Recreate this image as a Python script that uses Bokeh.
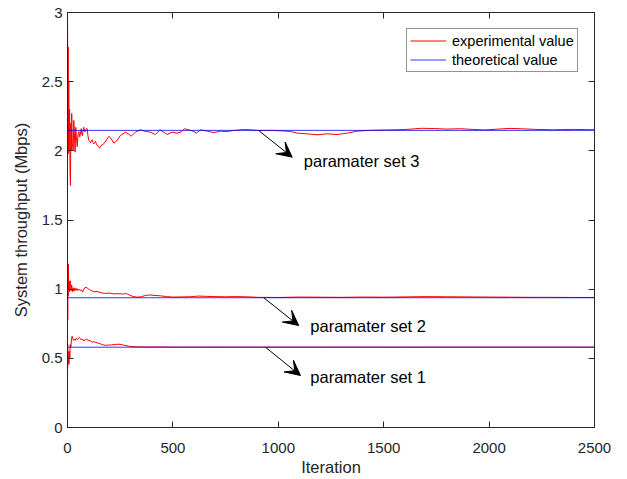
from bokeh.plotting import figure
from bokeh.models import (LinearAxis, Range1d, FixedTicker, Legend, LegendItem,
                          Arrow, VeeHead, Label)
from bokeh.embed import file_html
from bokeh.resources import INLINE

# ---------------- data ----------------
x_ticks = [0, 500, 1000, 1500, 2000, 2500]
x_tick_labels = ["0", "500", "1000", "1500", "2000", "2500"]
y_ticks = [0, 0.5, 1, 1.5, 2, 2.5, 3]
y_tick_labels = ["0", "0.5", "1", "1.5", "2", "2.5", "3"]

theory_values = [0.5805, 0.938, 2.148]   # set 1, set 2, set 3
theory_iter = [0, 2500]

set3_iter = [0, 2, 3, 4, 6, 8, 10, 12, 14, 16,
             18, 20, 23, 27, 30, 33, 36, 39, 42, 46,
             50, 54, 58, 62, 65, 68, 71, 74, 77, 81,
             85, 89, 93, 97, 101, 105, 109, 113, 117, 121,
             125, 129, 133, 137, 141, 145, 149, 153, 157, 172,
             196, 204, 220, 235, 251, 275, 291, 302, 322, 346,
             370, 393, 417, 438, 457, 473, 497, 520, 539, 555,
             575, 599, 612, 631, 663, 694, 726, 757, 789, 836,
             868, 907, 960, 1010, 1058, 1089, 1137, 1184, 1232, 1279,
             1327, 1374, 1421, 1480, 1563, 1620, 1680, 1740, 1800, 1860,
             1920, 1980, 2040, 2100, 2160, 2220, 2300, 2400, 2500]
set3_exp = [3.00, 2.35, 2.75, 1.98, 2.50, 2.00, 2.30, 1.85, 1.75, 2.20,
            2.00, 2.27, 2.05, 2.00, 2.22, 2.10, 1.99, 2.17, 2.10, 2.03,
            2.12, 2.14, 2.10, 2.13, 2.16, 2.12, 2.11, 2.15, 2.17, 2.14,
            2.14, 2.16, 2.16, 2.11, 2.075, 2.07, 2.06, 2.07, 2.08, 2.06,
            2.05, 2.06, 2.07, 2.05, 2.04, 2.035, 2.025, 2.02, 2.034, 2.051,
            2.104, 2.096, 2.055, 2.075, 2.111, 2.135, 2.12, 2.106, 2.135, 2.152,
            2.14, 2.135, 2.118, 2.152, 2.135, 2.118, 2.135, 2.128, 2.137, 2.159,
            2.152, 2.14, 2.128, 2.152, 2.142, 2.132, 2.142, 2.14, 2.147, 2.154,
            2.152, 2.147, 2.148, 2.145, 2.14, 2.128, 2.123, 2.116, 2.123, 2.118,
            2.128, 2.142, 2.147, 2.15, 2.152, 2.156, 2.163, 2.161, 2.157, 2.16,
            2.155, 2.151, 2.157, 2.162, 2.159, 2.155, 2.152, 2.155, 2.152]

set2_iter = [0, 1, 2, 3, 4, 6, 8, 10, 12, 14,
             17, 20, 23, 27, 31, 35, 40, 45, 50, 55,
             60, 65, 72, 80, 88, 96, 104, 112, 120, 130,
             140, 150, 165, 180, 200, 220, 240, 260, 280, 295,
             310, 330, 350, 370, 390, 410, 440, 470, 500, 540,
             580, 620, 660, 700, 750, 800, 850, 900, 1000, 1100,
             1200, 1300, 1400, 1500, 1600, 1700, 1800, 1900, 2000, 2100,
             2200, 2300, 2400, 2500]
set2_exp = [1.23, 0.78, 1.10, 0.95, 1.18, 1.00, 1.06, 0.98, 1.04, 1.06,
            0.99, 1.03, 0.98, 1.01, 0.985, 1.01, 0.99, 1.005, 0.99, 1.00,
            0.99, 0.995, 0.98, 1.008, 1.014, 1.005, 0.998, 0.99, 0.985, 0.98,
            0.985, 0.978, 0.972, 0.97, 0.971, 0.966, 0.967, 0.965, 0.968, 0.957,
            0.947, 0.942, 0.945, 0.955, 0.958, 0.955, 0.952, 0.946, 0.943, 0.944,
            0.945, 0.95, 0.948, 0.946, 0.945, 0.946, 0.945, 0.941, 0.94, 0.943,
            0.942, 0.941, 0.943, 0.942, 0.944, 0.946, 0.945, 0.944, 0.943, 0.942,
            0.941, 0.941, 0.940, 0.940]

set1_iter = [0, 1, 2, 3, 5, 7, 9, 11, 13, 16,
             19, 22, 25, 29, 33, 37, 42, 47, 52, 57,
             62, 67, 72, 78, 84, 90, 96, 102, 110, 118,
             126, 135, 145, 155, 165, 180, 195, 210, 225, 240,
             255, 270, 290, 310, 340, 380, 450, 550, 700, 900,
             1200, 1600, 2000, 2500]
set1_exp = [0.34, 0.60, 0.45, 0.55, 0.50, 0.46, 0.55, 0.50, 0.60, 0.58,
            0.64, 0.66, 0.645, 0.63, 0.64, 0.63, 0.645, 0.635, 0.645, 0.652,
            0.64, 0.632, 0.64, 0.625, 0.635, 0.638, 0.633, 0.628, 0.626, 0.616,
            0.62, 0.615, 0.61, 0.605, 0.599, 0.594, 0.596, 0.597, 0.600, 0.602,
            0.600, 0.594, 0.588, 0.584, 0.583, 0.582, 0.582, 0.581, 0.5815, 0.581,
            0.5812, 0.581, 0.5812, 0.581]

# annotations: arrows (tail -> head) and their texts
arrow_tail_x = [939, 931, 906]
arrow_tail_y = [0.5805, 0.938, 2.148]
arrow_head_x = [1105, 1097, 1066]
arrow_head_y = [0.376, 0.737, 1.954]
note_x = [1152, 1152, 1121]
note_y = [0.365, 0.735, 1.93]
note_text = ["paramater set 1", "paramater set 2", "paramater set 3"]

# ---------------- styling ----------------
FONT = "Liberation Sans"
AX = "#262626"

p = figure(width=627, height=479, x_range=Range1d(0, 2500), y_range=Range1d(0, 3),
           output_backend="svg", toolbar_location=None,
           min_border_left=67, min_border_top=12, min_border_right=33,
           min_border_bottom=52)
p.outline_line_color = None
p.xgrid.visible = False
p.ygrid.visible = False
p.background_fill_color = "white"
p.border_fill_color = "white"

def style_axis(ax, ticks, labels, show_labels=True):
    ax.ticker = FixedTicker(ticks=ticks)
    ax.major_label_overrides = {t: l for t, l in zip(ticks, labels)}
    ax.axis_line_color = AX
    ax.axis_line_width = 1
    ax.major_tick_line_color = AX
    ax.major_tick_in = 6
    ax.major_tick_out = 0
    ax.minor_tick_line_color = None
    ax.major_label_text_font = FONT
    if show_labels:
        ax.major_label_text_font_size = "15px"
        ax.major_label_text_color = AX
    else:
        ax.major_label_text_font_size = "0px"
        ax.major_label_text_color = None
        ax.major_label_standoff = 0

style_axis(p.xaxis[0], x_ticks, x_tick_labels)
p.xaxis[0].major_label_standoff = 15
p.xaxis[0].axis_label = "Iteration"
p.xaxis[0].axis_label_text_font = FONT
p.xaxis[0].axis_label_text_font_size = "16.5px"
p.xaxis[0].axis_label_text_font_style = "normal"
p.xaxis[0].axis_label_text_color = AX
p.xaxis[0].axis_label_standoff = 2

style_axis(p.yaxis[0], y_ticks, y_tick_labels)
p.yaxis[0].major_label_standoff = 5
p.yaxis[0].axis_label = "System throughput (Mbps)"
p.yaxis[0].axis_label_text_font = FONT
p.yaxis[0].axis_label_text_font_size = "16.5px"
p.yaxis[0].axis_label_text_font_style = "normal"
p.yaxis[0].axis_label_text_color = AX
p.yaxis[0].axis_label_standoff = 9

top_ax = LinearAxis()
style_axis(top_ax, x_ticks, x_tick_labels, show_labels=False)
p.add_layout(top_ax, "above")
right_ax = LinearAxis()
style_axis(right_ax, y_ticks, y_tick_labels, show_labels=False)
p.add_layout(right_ax, "right")

RED = "#ff0000"
BLUE = "#0000ff"

r_e1 = p.line(set1_iter, set1_exp, line_color=RED, line_width=1)
r_e2 = p.line(set2_iter, set2_exp, line_color=RED, line_width=1)
r_e3 = p.line(set3_iter, set3_exp, line_color=RED, line_width=1)
th = []
for v in theory_values:
    th.append(p.line(theory_iter, [v, v], line_color=BLUE, line_width=1, line_alpha=0.8))

legend = Legend(items=[LegendItem(label="experimental value", renderers=[r_e3]),
                       LegendItem(label="theoretical value", renderers=[th[2]])],
                location=(339, 355), margin=0, padding=3, spacing=2,
                glyph_width=36, glyph_height=17, label_height=17, label_standoff=6,
                label_text_font=FONT, label_text_font_size="14.5px",
                label_text_color="black",
                border_line_color=AX, border_line_width=1,
                background_fill_color="white", background_fill_alpha=1)
p.add_layout(legend)

for i in range(3):
    p.add_layout(Arrow(end=VeeHead(size=15, fill_color="black", line_color="black",
                                   line_width=1),
                       x_start=arrow_tail_x[i], y_start=arrow_tail_y[i],
                       x_end=arrow_head_x[i], y_end=arrow_head_y[i],
                       line_color="black", line_width=1))
    p.add_layout(Label(x=note_x[i], y=note_y[i], text=note_text[i],
                       text_font=FONT, text_font_size="16.5px",
                       text_baseline="middle", text_align="left",
                       text_color="black"))

open("out.html", "w").write(file_html(p, INLINE))
